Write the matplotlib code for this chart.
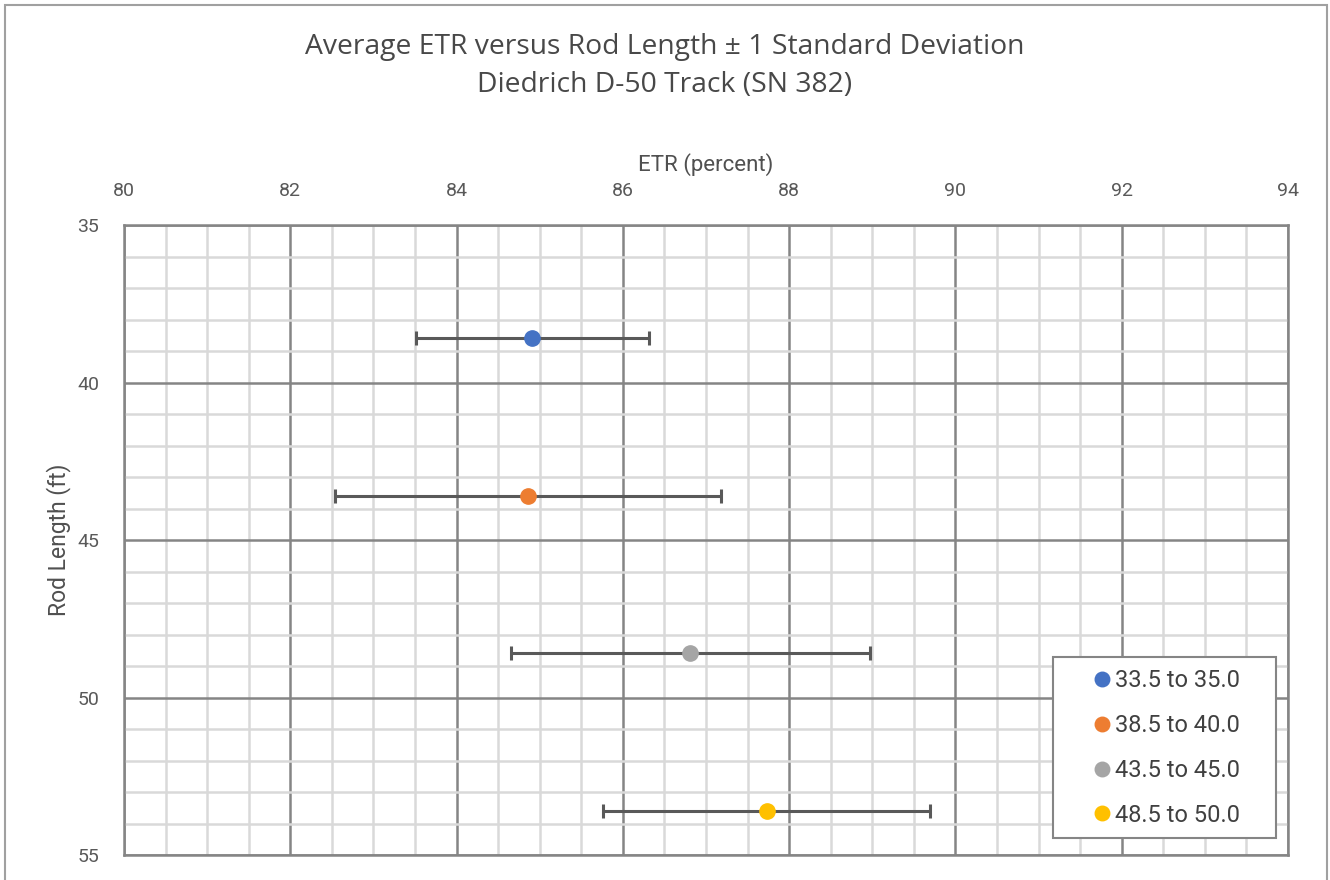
import matplotlib.pyplot as plt
from matplotlib.patches import Rectangle
from matplotlib.ticker import MultipleLocator

# Datos
labels = ["33.5 to 35.0", "38.5 to 40.0", "43.5 to 45.0", "48.5 to 50.0"]
etr_mean = [84.91, 84.86, 86.81, 87.73]
rod_length = [38.6, 43.6, 48.6, 53.6]
etr_std = [1.40, 2.32, 2.16, 1.97]
colors = ["#4472C4", "#ED7D31", "#A5A5A5", "#FFC000"]

plt.rcParams['font.family'] = ['Roboto', 'DejaVu Sans']

fig = plt.figure(figsize=(13.3, 8.8), dpi=100)
ax = fig.add_axes([124 / 1330, 1 - 855 / 880, 1164 / 1330, 630 / 880])

for lab, x, y, s, c in zip(labels, etr_mean, rod_length, etr_std, colors):
    ax.errorbar(x, y, xerr=s, fmt='none', ecolor='#595959', elinewidth=2.2,
                capsize=5, capthick=2.2, zorder=3)
    ax.plot(x, y, 'o', color=c, markersize=11, label=lab, zorder=4)

ax.set_xlim(80, 94)
ax.set_ylim(55, 35)
ax.xaxis.set_major_locator(MultipleLocator(2))
ax.xaxis.set_minor_locator(MultipleLocator(0.5))
ax.yaxis.set_major_locator(MultipleLocator(5))
ax.yaxis.set_minor_locator(MultipleLocator(1))
ax.xaxis.tick_top()
ax.xaxis.set_label_position('top')
ax.tick_params(which='both', length=0, labelsize=14, colors='#595959')
ax.tick_params(axis='x', pad=18)
ax.tick_params(axis='y', pad=18)
ax.grid(which='minor', color='#d9d9d9', linewidth=1.8, zorder=0)
ax.grid(which='major', color='#858585', linewidth=1.8, zorder=1)
ax.set_axisbelow(True)
for sp in ax.spines.values():
    sp.set_color('#858585')
    sp.set_linewidth(1.8)

ax.set_xlabel('ETR (percent)', fontsize=16, color='#505050', labelpad=8)
ax.set_ylabel('Rod Length (ft)', fontsize=16.5, color='#505050', labelpad=4)

fig.text(0.5, 1 - 47 / 880, 'Average ETR versus Rod Length ± 1 Standard Deviation',
         ha='center', va='center', fontsize=20.3, color='#484848',
         family=['Open Sans', 'DejaVu Sans'])
fig.text(0.5, 1 - 85 / 880, 'Diedrich D-50 Track (SN 382)',
         ha='center', va='center', fontsize=20.3, color='#484848',
         family=['Open Sans', 'DejaVu Sans'])

# Leyenda sin marco, el marco se dibuja aparte
leg = ax.legend(loc='center', bbox_to_anchor=(1165 / 1330, 1 - 748 / 880),
                bbox_transform=fig.transFigure, fontsize=17, frameon=False,
                handletextpad=0.05, labelspacing=0.92, handlelength=1.0,
                markerscale=0.95, borderpad=0)
for t in leg.get_texts():
    t.set_color('#404040')

fig.patches.append(Rectangle((1053 / 1330, 1 - 838 / 880), 223 / 1330, 181 / 880,
                             transform=fig.transFigure, facecolor='white',
                             edgecolor='#858585', linewidth=1.5, zorder=5))
leg.set_zorder(6)
leg.remove()
fig.legends.append(leg)

# Borde del gráfico
fig.patches.append(Rectangle((5 / 1330, -0.1), 1322 / 1330, 1.1 - 5 / 880,
                             transform=fig.transFigure, fill=False,
                             edgecolor='#a0a0a0', linewidth=1.5))

fig.savefig('out.png', dpi=100)
